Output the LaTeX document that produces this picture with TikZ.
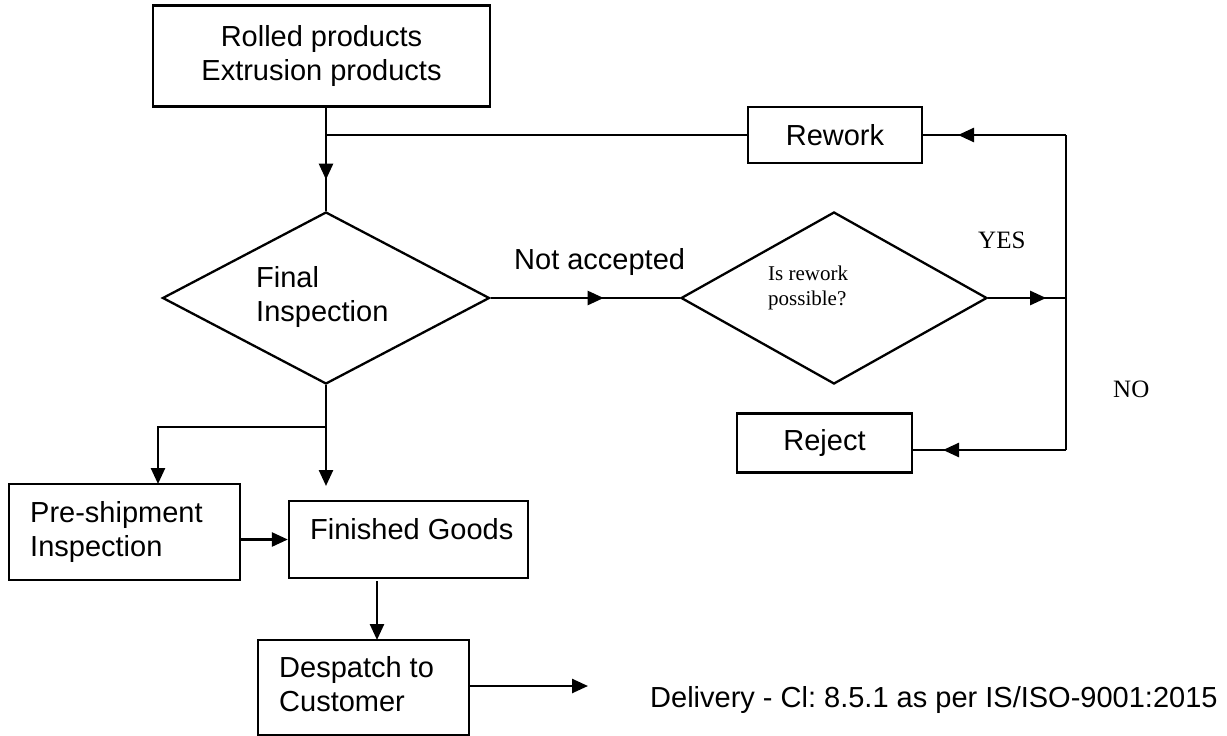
\documentclass[tikz,border=0pt]{standalone}
\usepackage{fontspec}
\setmainfont{Liberation Sans}
\newfontfamily\tnr{Liberation Serif}
\usetikzlibrary{arrows.meta,shapes.geometric,decorations.markings}
\frenchspacing

\tikzset{
  flow/.style={line width=2.5pt},
  thinflow/.style={line width=1.6pt},
  endtip/.style={-{Triangle[length=16pt,width=14pt]}},
  tipat/.style={postaction={decorate},
    decoration={markings,mark=at position #1 with {\arrow{Triangle[length=16pt,width=14pt]}}}},
  stepbox/.style={draw,line width=2.3pt,inner sep=0pt,align=center,
    font=\fontsize{29}{34}\selectfont},
  decision/.style={draw,diamond,line width=2.3pt,inner sep=0pt},
  lbl/.style={font=\fontsize{29}{34}\selectfont,inner sep=0pt,anchor=base west},
  serif/.style={font=\tnr\fontsize{25}{30}\selectfont,inner sep=0pt,anchor=base west},
  small serif/.style={font=\tnr\fontsize{21}{26}\selectfont,inner sep=0pt,anchor=base west},
}

\begin{document}
\begin{tikzpicture}[x=1pt,y=-1pt]
\useasboundingbox (0,0) rectangle (1227,736);

% boxes and decisions
\node[stepbox,minimum width=337pt,minimum height=101pt] (src) at (321.5,56)
  {Rolled products\\Extrusion products};
\node[stepbox,minimum width=174pt,minimum height=56pt] (rw) at (835,135) {Rework};
\node[stepbox,minimum width=175pt,minimum height=59pt] (rj) at (824.5,443) {Reject};
\node[decision,minimum width=327pt,minimum height=172pt] (fi) at (326,298) {};
\node[decision,minimum width=306pt,minimum height=172pt] (ir) at (834,298) {};
\node[stepbox,minimum width=231pt,minimum height=96pt] (pre) at (124.5,532) {};
\node[stepbox,minimum width=239pt,minimum height=77pt] (fg) at (408.5,539.5) {};
\node[stepbox,minimum width=211pt,minimum height=95pt] (dsp) at (363.5,687.5) {};

% texts
\node[lbl] (fi1) at (256,287) {Final};
\node[lbl] (fi2) at (256,321) {Inspection};
\node[small serif] (ir1) at (768,280) {Is rework};
\node[small serif] (ir2) at (768,305) {possible?};
\node[lbl] (pre1) at (30,522) {Pre-shipment};
\node[lbl] (pre2) at (30,556) {Inspection};
\node[lbl] (fg1) at (310,539) {Finished Goods};
\node[lbl] (dsp1) at (279,677) {Despatch to};
\node[lbl] (dsp2) at (279,711) {Customer};
\node[lbl] (na) at (514,269) {Not accepted};
\node[serif] (yes) at (978,248) {YES};
\node[serif] (no) at (1113,397) {NO};
\node[lbl] (dl) at (650,707) {Delivery - Cl: 8.5.1 as per IS/ISO-9001:2015};

% junction points
\coordinate (joinA) at (326,135);
\coordinate (rwR) at (1066,135);
\coordinate (yesR) at (1066,298);
\coordinate (rjR) at (1066,450);
\coordinate (split) at (326,427);
\coordinate (preIn) at (158,484);
\coordinate (fgIn) at (326,486);
\coordinate (fgOut) at (377,581);
\coordinate (dspIn) at (377,640);
\coordinate (deliv) at (588,686);

% connectors
\draw[flow,tipat=72pt] (src.south -| fi.north) -- (fi.north);
\draw[thinflow] (rw.west) -- (joinA);
\draw[flow,tipat=113pt] (fi.east) -- (ir.west);
\draw[flow,tipat=58pt] (ir.east) -- (yesR);
\draw[thinflow] (rwR) -- (rjR);
\draw[flow,tipat=108pt] (rwR) -- (rw.east);
\draw[flow,tipat=123pt] (rjR) -- (rjR -| rj.east);
\draw[flow,endtip] (fi.south) -- (fgIn);
\draw[flow,endtip] (split) -| (preIn);
\draw[flow,endtip] (pre.east |- fg.west) -- (fg.west);
\draw[flow,endtip] (fgOut) -- (dspIn);
\draw[flow,endtip] (dsp.east |- deliv) -- (deliv);
\end{tikzpicture}
\end{document}
